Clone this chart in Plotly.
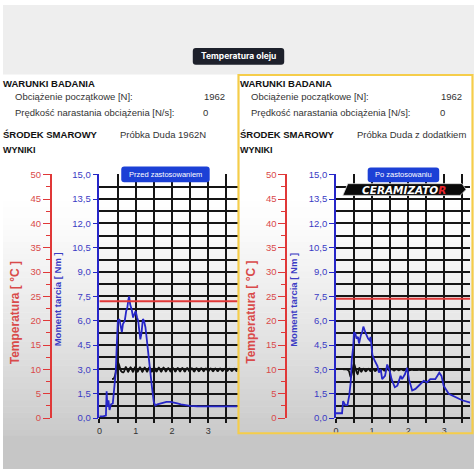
import plotly.graph_objects as go

W, H = 474, 474

# ---------------- data ----------------
# Before treatment (left panel)
t_before = [0, 0.1, 0.18, 0.2, 0.22, 0.25, 0.28, 0.32, 0.37, 0.42, 0.45, 0.48, 0.51, 0.55, 0.58,
            0.62, 0.65, 0.7, 0.74, 0.77, 0.8, 0.82, 0.85, 0.89, 0.93, 0.97, 1.0, 1.04, 1.07, 1.1,
            1.13, 1.16, 1.2, 1.23, 1.27, 1.3, 1.33, 1.36, 1.4, 1.45, 1.5, 1.54, 1.6, 1.68, 1.75,
            1.85, 1.96, 2.05, 2.15, 2.25, 2.38, 2.5, 2.7, 2.9, 3.2, 3.5, 3.8]
moment_before = [0.1, 0.1, 0.15, 1.65, 0.7, 1.1, 0.5, 0.85, 0.9, 2.0, 2.8, 4.5, 6.0, 6.1, 5.8,
                 5.3, 5.8, 6.0, 6.6, 6.8, 7.3, 7.5, 7.0, 6.7, 6.2, 6.5, 6.6, 6.2, 6.0, 5.4,
                 4.85, 5.2, 6.1, 6.0, 5.6, 5.0, 4.3, 3.9, 3.0, 1.9, 1.0, 0.78, 0.85, 0.9, 0.95,
                 1.0, 1.0, 0.97, 0.9, 0.85, 0.78, 0.75, 0.73, 0.72, 0.72, 0.72, 0.72]
t_load_before = [0.35, 0.4, 0.44, 0.48, 0.52, 0.56, 0.6, 0.665, 0.73, 0.795, 0.86, 0.925, 0.99,
                 1.055, 1.12, 1.185, 1.25, 1.315, 1.38, 1.445, 1.51, 1.575, 1.64, 1.705, 1.77,
                 1.835, 1.9, 1.965, 2.03, 2.095, 2.16, 2.225, 2.29, 2.355, 2.42, 2.485, 2.55,
                 2.615, 2.68, 2.745, 2.81, 2.875, 2.94, 3.005, 3.07, 3.135, 3.2, 3.265, 3.33,
                 3.395, 3.46, 3.525, 3.59, 3.655, 3.72, 3.785, 3.85]
load_before = [2.4, 2.45, 2.7, 3.2, 3.4, 3.15, 2.9, 2.82, 3.15, 2.84, 3.14, 2.84, 3.15, 2.85,
               3.14, 2.84, 3.13, 2.85, 3.14, 2.85, 3.12, 2.86, 3.12, 2.85, 3.12, 2.86, 3.1,
               2.86, 3.1, 2.86, 3.1, 2.87, 3.1, 2.86, 3.1, 2.87, 3.08, 2.87, 3.08, 2.88, 3.08,
               2.88, 3.06, 2.88, 3.06, 2.88, 3.06, 2.89, 3.06, 2.89, 3.05, 2.89, 3.05, 2.89,
               3.05, 2.9, 3.0]
temp_before_t = [0, 3.85]
temp_before = [24, 24]

# After treatment (right panel)
t_after = [0, 0.17, 0.2, 0.26, 0.32, 0.37, 0.41, 0.44, 0.48, 0.5, 0.54, 0.57, 0.61, 0.64, 0.69,
           0.73, 0.76, 0.8, 0.83, 0.89, 0.93, 0.96, 1.01, 1.06, 1.1, 1.15, 1.19, 1.24, 1.28,
           1.36, 1.42, 1.49, 1.54, 1.63, 1.7, 1.79, 1.83, 1.91, 1.97, 2.02, 2.11, 2.2, 2.34,
           2.43, 2.52, 2.61, 2.75, 2.86, 2.92, 2.98, 3.12, 3.3, 3.49, 3.72]
moment_after = [0.3, 0.3, 1.05, 0.8, 0.8, 1.4, 2.2, 3.6, 4.4, 5.3, 5.2, 4.9, 5.0, 4.6, 5.1,
                5.3, 5.64, 5.3, 5.2, 4.9, 4.8, 5.0, 3.9, 3.6, 3.4, 3.2, 2.8, 3.0, 2.4, 2.6, 3.3,
                2.9, 2.4, 1.9, 2.0, 2.6, 2.4, 2.7, 3.1, 2.4, 1.7, 1.8, 2.1, 2.3, 2.2, 2.4, 2.4,
                2.8, 2.6, 2.0, 1.5, 1.3, 1.1, 0.96]
t_load_after = [0.2, 0.3, 0.36, 0.41, 0.46, 0.5, 0.55, 0.6, 0.65, 0.7, 0.765, 0.83, 0.895,
                0.96, 1.025, 1.09, 1.155, 1.22, 1.285, 1.35, 1.415, 1.48, 1.545, 1.61, 1.675,
                1.74, 1.805, 1.87, 1.935, 2.0, 2.1, 2.2, 2.3, 2.4, 2.5, 2.6, 2.7, 2.8, 2.9, 3.0,
                3.2, 3.4, 3.6, 3.75]
load_after = [3.0, 3.0, 2.9, 2.5, 2.95, 3.35, 3.0, 2.7, 3.1, 2.85, 3.05, 2.88, 3.04, 2.9, 3.04,
              2.9, 3.03, 2.91, 3.03, 2.92, 3.02, 2.93, 3.02, 2.93, 3.01, 2.94, 3.01, 2.94, 3.0,
              2.95, 2.97, 2.96, 2.97, 2.96, 2.97, 2.96, 2.97, 2.96, 2.96, 2.96, 2.96, 2.96,
              2.96, 2.96]
temp_after_t = [0, 3.8]
temp_after = [24.5, 24.5]

x_ticks = [0, 1, 2, 3]

header_title = "Temperatura oleju"
cond_title = "WARUNKI BADANIA"
cond_labels = ["Obciążenie początkowe [N]:", "Prędkość narastania obciążenia [N/s]:"]
cond_values = ["1962", "0"]
lub_title = "ŚRODEK SMAROWY"
lub_names = ["Próbka Duda 1962N", "Próbka Duda z dodatkiem"]
results_title = "WYNIKI"
panel_badges = ["Przed zastosowaniem", "Po zastosowaniu"]
temp_axis_title = "Temperatura [ °C ]"
moment_axis_title = "Moment tarcia [ Nm ]"

# ---------------- helpers ----------------
def X(p):
    return p / W

def Y(p):
    return 1 - p / H

def rrect(x0, y0, x1, y1, r):
    return (f"M {X(x0 + r)},{Y(y0)} L {X(x1 - r)},{Y(y0)} Q {X(x1)},{Y(y0)} {X(x1)},{Y(y0 + r)} "
            f"L {X(x1)},{Y(y1 - r)} Q {X(x1)},{Y(y1)} {X(x1 - r)},{Y(y1)} "
            f"L {X(x0 + r)},{Y(y1)} Q {X(x0)},{Y(y1)} {X(x0)},{Y(y1 - r)} "
            f"L {X(x0)},{Y(y0 + r)} Q {X(x0)},{Y(y0)} {X(x0 + r)},{Y(y0)} Z")

BLUE = "#2626c8"
BLUE_TXT = "#3b3bc4"
RED = "#e03838"
RED_TXT = "#d94a4a"
GRID = "#151515"
FONT = "Liberation Sans, Arial, sans-serif"

fig = go.Figure()

# traces left
fig.add_trace(go.Scatter(x=temp_before_t, y=temp_before, xaxis="x", yaxis="y2", mode="lines",
                         line=dict(color=RED, width=2), showlegend=False, hoverinfo="skip"))
fig.add_trace(go.Scatter(x=t_load_before, y=load_before, xaxis="x", yaxis="y", mode="lines",
                         line=dict(color="#111111", width=1.8, shape="spline"), showlegend=False))
fig.add_trace(go.Scatter(x=t_before, y=moment_before, xaxis="x", yaxis="y", mode="lines",
                         line=dict(color=BLUE, width=1.8), showlegend=False))
# traces right
fig.add_trace(go.Scatter(x=temp_after_t, y=temp_after, xaxis="x2", yaxis="y4", mode="lines",
                         line=dict(color=RED, width=2), showlegend=False, hoverinfo="skip"))
fig.add_trace(go.Scatter(x=t_load_after, y=load_after, xaxis="x2", yaxis="y3", mode="lines",
                         line=dict(color="#111111", width=1.8, shape="spline"), showlegend=False))
fig.add_trace(go.Scatter(x=t_after, y=moment_after, xaxis="x2", yaxis="y3", mode="lines",
                         line=dict(color=BLUE, width=1.8), showlegend=False))

y_dom = [Y(422), Y(173)]

def xaxis_cfg(x0, x1, xmax, anchor):
    return dict(domain=[X(x0), X(x1)], range=[0, xmax], tickvals=x_ticks, showgrid=True,
                anchor=anchor,
                gridcolor=GRID, gridwidth=1.6, zeroline=False, showline=False,
                ticks="outside", ticklen=4, tickcolor=GRID, tickwidth=1.5,
                tickfont=dict(family=FONT, size=9, color="#333333"),
                minor=dict(dtick=0.5, tick0=0, showgrid=True, gridcolor=GRID, gridwidth=1.6,
                           ticks="outside", ticklen=4, tickcolor=GRID, tickwidth=1.5),
                fixedrange=True)

def ymom_cfg(anchor):
    return dict(domain=y_dom, range=[0, 15.02], dtick=1.5, tick0=0, tickformat=".1f",
                anchor=anchor, showgrid=True, gridcolor=GRID, gridwidth=1.6,
                zeroline=True, zerolinecolor=GRID, zerolinewidth=1.6,
                showline=True, linecolor=BLUE, linewidth=1.5,
                ticks="outside", ticklen=5, tickcolor=BLUE, tickwidth=1.2,
                tickfont=dict(family=FONT, size=9.5, color=BLUE_TXT),
                minor=dict(dtick=0.75, tick0=0, showgrid=True, gridcolor=GRID, gridwidth=1.6),
                fixedrange=True)

def ytemp_cfg(over, pos):
    return dict(overlaying=over, anchor="free", position=X(pos), side="left",
                range=[0, 50 * 15.02 / 15], dtick=5, tick0=0, showgrid=False, zeroline=False,
                showline=True, linecolor=RED, linewidth=1.5,
                ticks="outside", ticklen=7, tickcolor=RED, tickwidth=1.2,
                tickfont=dict(family=FONT, size=9.5, color=RED_TXT),
                minor=dict(dtick=2.5, tick0=0, ticks="outside", ticklen=4, tickcolor=RED,
                           tickwidth=1),
                fixedrange=True)

shapes = []
# background gradient
n = 40
top, bot = 200, 440
for i in range(n):
    y0 = top + (bot - top) * i / n
    y1 = top + (bot - top) * (i + 1) / n + 0.5
    g = int(255 - (255 - 202) * ((i + 0.5) / n) ** 1.2)
    shapes.append(dict(type="rect", xref="paper", yref="paper", x0=0, x1=1, y0=Y(y1), y1=Y(y0),
                       fillcolor=f"rgb({g},{g},{g})", line=dict(width=0), layer="below"))
shapes.append(dict(type="rect", xref="paper", yref="paper", x0=0, x1=1, y0=0, y1=Y(440),
                   fillcolor="#c6c6c6", line=dict(width=0), layer="below"))
# top gray band
shapes.append(dict(type="rect", xref="paper", yref="paper", x0=0, x1=1, y0=Y(71), y1=1,
                   fillcolor="#eeeeee", line=dict(width=0), layer="below"))
# cover under yellow border on right (clips tick labels)
shapes.append(dict(type="rect", xref="paper", yref="paper", x0=X(236), x1=1, y0=0, y1=Y(438),
                   fillcolor="#c6c6c6", line=dict(width=0), layer="above"))
# yellow border
shapes.append(dict(type="rect", xref="paper", yref="paper", x0=X(237), x1=X(472.5), y0=Y(437.5),
                   y1=Y(71.5), line=dict(color="#f5cd4a", width=2.2), fillcolor="rgba(0,0,0,0)",
                   layer="above"))
# header badge
shapes.append(dict(type="path", xref="paper", yref="paper", path=rrect(191, 44, 283, 61, 3),
                   fillcolor="#1d202b", line=dict(width=0), layer="above"))
# panel badges
shapes.append(dict(type="path", xref="paper", yref="paper", path=rrect(119, 165, 208, 181, 3),
                   fillcolor="#1c40d6", line=dict(width=0), layer="above"))
shapes.append(dict(type="path", xref="paper", yref="paper", path=rrect(367, 166, 439, 181, 3),
                   fillcolor="#1c40d6", line=dict(width=0), layer="above"))
# logo parallelogram
shapes.append(dict(type="path", xref="paper", yref="paper",
                   path=f"M {X(347)},{Y(182.5)} L {X(462)},{Y(182.5)} L {X(466)},{Y(188.5)} "
                        f"L {X(460)},{Y(194.5)} L {X(342)},{Y(194.5)} Z",
                   fillcolor="#0a0a0a", line=dict(color="#dddddd", width=0.8), layer="above"))

ann = []
def txt(x, y, s, size=10, color="#333333", bold=False, xanchor="left", family=FONT, angle=0):
    ann.append(dict(x=X(x), y=Y(y), xref="paper", yref="paper", text=f"<b>{s}</b>" if bold else s,
                    showarrow=False, xanchor=xanchor, yanchor="middle", textangle=angle,
                    borderpad=0, font=dict(family=family, size=size, color=color)))

txt(237, 52.5, header_title, size=8.5, color="#ffffff", bold=True, xanchor="center",
    family="Inter, sans-serif")
for off, lub in zip([0, 238], lub_names):
    txt(off - 1, 80, cond_title, size=9.5, color="#111111", bold=True)
    txt(off + 11, 93, cond_labels[0], size=9.5)
    txt(off + 11, 110, cond_labels[1], size=9.5)
    txt(off + (224 if off == 0 else 225), 93, cond_values[0], size=9.5, xanchor="right")
    txt(off + 204, 110, cond_values[1], size=9.5, xanchor="center")
    txt(off - 1, 132, lub_title, size=9.5, color="#111111", bold=True)
    txt(off + 117, 132, lub, size=9.5)
    txt(off - 1, 148, results_title, size=9, color="#111111", bold=True)

txt(163.5, 173, panel_badges[0], size=7.5, color="#ffffff", xanchor="center")
txt(403, 173.5, panel_badges[1], size=7.5, color="#ffffff", xanchor="center")
ann.append(dict(x=X(404), y=Y(188.8), xref="paper", yref="paper", showarrow=False,
                text="<b><i>CERAMIZATO<span style='color:#e8242c'>R</span></i></b>",
                xanchor="center", yanchor="middle",
                font=dict(family="DejaVu Sans, sans-serif", size=10.5, color="#ffffff")))

for off in [0, 238]:
    txt(off + 12, 314, temp_axis_title, size=12, color=RED_TXT, bold=True, xanchor="center", angle=-90)
    txt(off + 55, 301, moment_axis_title, size=9.5, color=BLUE_TXT, bold=True, xanchor="center", angle=-90)

fig.update_layout(
    width=W, height=H, margin=dict(l=0, r=0, t=0, b=0),
    paper_bgcolor="#ffffff", plot_bgcolor="rgba(0,0,0,0)",
    separators=", ", showlegend=False,
    xaxis=xaxis_cfg(97, 236, 3.81, "y"),
    xaxis2=xaxis_cfg(335, 470, 3.71, "y3"),
    yaxis=ymom_cfg("x"),
    yaxis2=ytemp_cfg("y", 48),
    yaxis3=ymom_cfg("x2"),
    yaxis4=ytemp_cfg("y3", 285),
    shapes=shapes, annotations=ann,
)

fig.write_html(
    "out.html",
    config={"displayModeBar": False},
    post_script=("document.body.style.margin='0';document.body.style.padding='0';"
                 "document.documentElement.style.overflow='hidden';"
                 "var d=document.getElementById('{plot_id}');"
                 "d.style.position='absolute';d.style.left='0px';d.style.top='0px';"),
)
